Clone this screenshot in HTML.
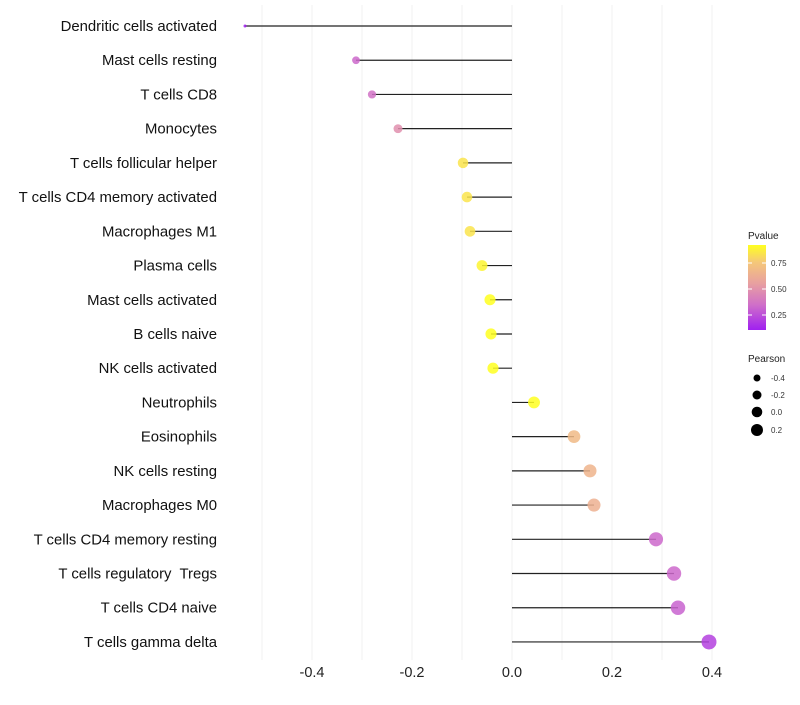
<!DOCTYPE html>
<html><head><meta charset="utf-8"><style>
body{margin:0;background:#fff;font-family:"Liberation Sans",sans-serif}
text{white-space:pre}
</style></head><body>
<svg id="chart" width="800" height="700" xmlns="http://www.w3.org/2000/svg" font-family="Liberation Sans, sans-serif">
<defs><linearGradient id="pg" x1="0" y1="1" x2="0" y2="0">
<stop offset="0" stop-color="#a020f0"/><stop offset="0.3" stop-color="#d070c8"/><stop offset="0.55" stop-color="#e8a0a0"/><stop offset="0.8" stop-color="#f5c878"/><stop offset="1" stop-color="#ffff20"/></linearGradient></defs>
<g id="grid"></g>
<g id="marks"></g>
<g id="ylab"></g>
<g id="xlab"></g>
<g>
<text x="748" y="239" font-size="10" fill="#222">Pvalue</text>
<rect x="748" y="245" width="18" height="85" fill="url(#pg)"/>
<line x1="748" y1="263" x2="752" y2="263" stroke="#fff"/><line x1="762" y1="263" x2="766" y2="263" stroke="#fff"/>
<line x1="748" y1="289" x2="752" y2="289" stroke="#fff"/><line x1="762" y1="289" x2="766" y2="289" stroke="#fff"/>
<line x1="748" y1="315" x2="752" y2="315" stroke="#fff"/><line x1="762" y1="315" x2="766" y2="315" stroke="#fff"/>
<text x="771" y="266" font-size="8" fill="#333">0.75</text>
<text x="771" y="292" font-size="8" fill="#333">0.50</text>
<text x="771" y="318" font-size="8" fill="#333">0.25</text>
</g>
<g>
<text x="748" y="362" font-size="10" fill="#222">Pearson</text>
<circle cx="757" cy="378" r="3.5" fill="#000"/><text x="771" y="381" font-size="8" fill="#333">-0.4</text>
<circle cx="757" cy="395" r="4.5" fill="#000"/><text x="771" y="398" font-size="8" fill="#333">-0.2</text>
<circle cx="757" cy="412" r="5.3" fill="#000"/><text x="771" y="415" font-size="8" fill="#333">0.0</text>
<circle cx="757" cy="430" r="6" fill="#000"/><text x="771" y="433" font-size="8" fill="#333">0.2</text>
</g>
</svg>
<script>
const categories=["Dendritic cells activated","Mast cells resting","T cells CD8","Monocytes","T cells follicular helper","T cells CD4 memory activated","Macrophages M1","Plasma cells","Mast cells activated","B cells naive","NK cells activated","Neutrophils","Eosinophils","NK cells resting","Macrophages M0","T cells CD4 memory resting","T cells regulatory  Tregs","T cells CD4 naive","T cells gamma delta"];
const pearson=[-0.534,-0.312,-0.28,-0.228,-0.098,-0.09,-0.084,-0.06,-0.044,-0.042,-0.038,0.044,0.124,0.156,0.164,0.288,0.324,0.332,0.394];
const pvalue=[0.08,0.3,0.33,0.45,0.8,0.8,0.8,0.85,0.95,0.95,0.95,0.95,0.65,0.62,0.6,0.3,0.3,0.28,0.18];
const xTicks=[-0.4,-0.2,0.0,0.2,0.4];
const xTickLabels=["-0.4","-0.2","0.0","0.2","0.4"];
const NS="http://www.w3.org/2000/svg";
const x=v=>512+500*v;
const y=i=>26+i*34.22;
const rad=v=>Math.sqrt(2.25+58*(v+0.534));
const stops=[[0.08,[160,32,240]],[0.32,[208,112,200]],[0.52,[232,160,160]],[0.72,[245,200,120]],[0.88,[255,255,32]]];
function col(p){if(p<=stops[0][0])return `rgb(${stops[0][1]})`;for(let k=1;k<stops.length;k++){if(p<=stops[k][0]){const a=stops[k-1],b=stops[k],t=(p-a[0])/(b[0]-a[0]);return `rgb(${a[1].map((c,j)=>Math.round(c+(b[1][j]-c)*t))})`;}}return `rgb(${stops[stops.length-1][1]})`;}
function mk(t,a,p){const e=document.createElementNS(NS,t);for(const k in a)e.setAttribute(k,a[k]);p.appendChild(e);return e;}
const grid=document.getElementById('grid'),marks=document.getElementById('marks'),ylab=document.getElementById('ylab'),xlab=document.getElementById('xlab');
for(let v=-0.5;v<=0.45;v+=0.1){const g=mk('line',{x1:x(v),x2:x(v),y1:5,y2:660,stroke:'#f0f0f0','stroke-width':1},grid);

}
categories.forEach((c,i)=>{
const l=mk('line',{x1:x(0),x2:x(pearson[i]),y1:y(i),y2:y(i),stroke:'#222','stroke-width':1.2},marks);


const d=mk('circle',{cx:x(pearson[i]),cy:y(i),r:rad(pearson[i]),fill:col(pvalue[i]),'fill-opacity':0.85},marks);


const t=mk('text',{x:217,y:y(i)+5,'text-anchor':'end','font-size':14.9,fill:'#111'},ylab);t.textContent=c;


});
xTicks.forEach((v,i)=>{const t=mk('text',{x:x(v),y:677,'text-anchor':'middle','font-size':14.5,fill:'#222'},xlab);t.textContent=xTickLabels[i];

});
</script>
</body></html>
